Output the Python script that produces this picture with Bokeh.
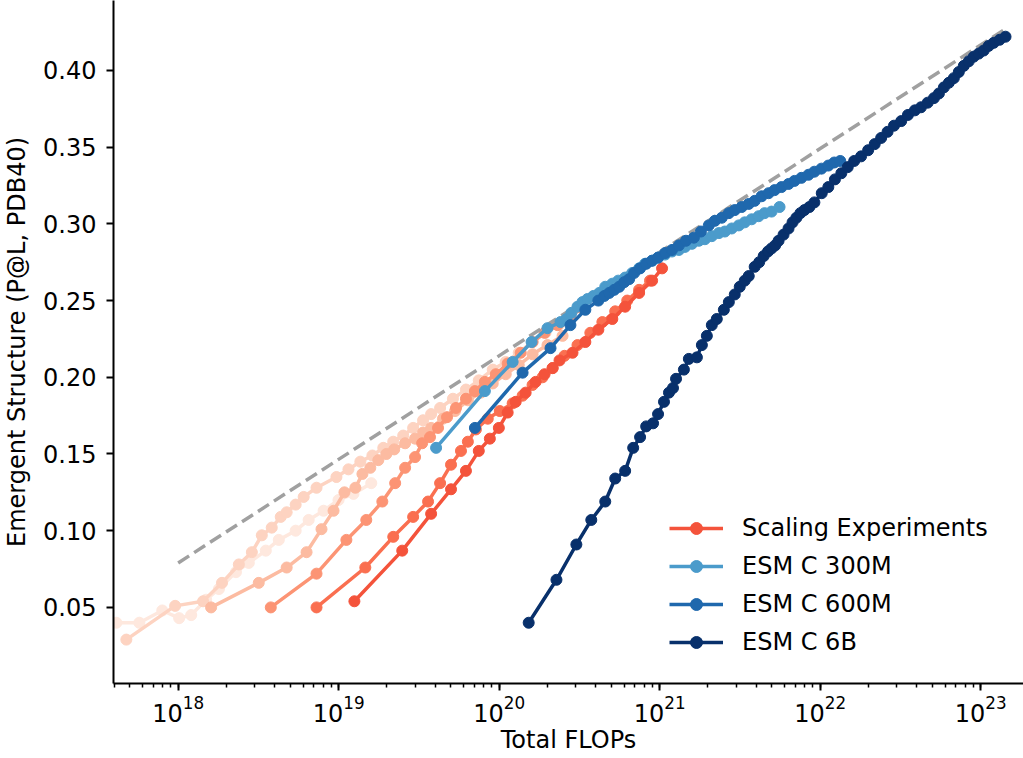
import numpy as np
from bokeh.plotting import figure
from bokeh.models import Range1d, Legend, LegendItem, FixedTicker, PrintfTickFormatter
from bokeh.embed import file_html
from bokeh.resources import INLINE

# x values are log10(total FLOPs), y values are P@L on PDB40

# scaling experiments, lightest (smallest) to darkest
scale_logx = [
    [17.615, 17.758, 17.901, 18.006, 18.081, 18.174, 18.254, 18.360, 18.440, 18.546,
     18.627, 18.732, 18.813, 18.906, 18.999, 19.092, 19.203],
    [17.677, 17.981, 18.155, 18.273, 18.378, 18.459, 18.521, 18.583, 18.639, 18.676,
     18.732, 18.782, 18.862, 18.986, 19.061, 19.135, 19.210, 19.278, 19.340, 19.402,
     19.464, 19.526, 19.576, 19.632, 19.712, 19.793, 19.873, 19.960, 20.041, 20.122,
     20.208, 20.289, 20.370, 20.444],
    [18.205, 18.502, 18.676, 18.800, 18.893, 18.968, 19.036, 19.104, 19.148, 19.197,
     19.247, 19.297, 19.346, 19.414, 19.476, 19.526, 19.576, 19.650, 19.725, 19.805,
     19.886, 19.960, 20.041, 20.122, 20.208, 20.301, 20.395],
    [18.577, 18.862, 19.048, 19.172, 19.272, 19.352, 19.414, 19.476, 19.520, 19.569,
     19.619, 19.675, 19.731, 19.793, 19.849, 19.911, 19.979, 20.053, 20.134, 20.208,
     20.283, 20.364, 20.444, 20.519],
    [18.862, 19.166, 19.340, 19.464, 19.557, 19.632, 19.700, 19.762, 19.805, 19.855,
     19.929, 20.004, 20.084, 20.146, 20.208, 20.270, 20.333, 20.407, 20.488, 20.568,
     20.643, 20.723, 20.798, 20.872, 20.940],
    [19.098, 19.396, 19.576, 19.700, 19.793, 19.873, 19.942, 19.998, 20.053, 20.103,
     20.165, 20.227, 20.283, 20.333, 20.376, 20.457, 20.537, 20.618, 20.705, 20.785,
     20.872, 20.953, 21.015],
]
scale_pal = [
    [0.040, 0.040, 0.048, 0.043, 0.045, 0.055, 0.062, 0.073, 0.079, 0.087,
     0.094, 0.100, 0.107, 0.113, 0.120, 0.124, 0.131],
    [0.029, 0.051, 0.054, 0.066, 0.078, 0.086, 0.097, 0.102, 0.109, 0.112,
     0.117, 0.122, 0.128, 0.135, 0.140, 0.145, 0.149, 0.154, 0.158, 0.162,
     0.167, 0.172, 0.176, 0.180, 0.186, 0.192, 0.198, 0.205, 0.210, 0.216,
     0.223, 0.229, 0.234, 0.239],
    [0.050, 0.066, 0.076, 0.086, 0.101, 0.113, 0.125, 0.128, 0.137, 0.141,
     0.146, 0.150, 0.153, 0.157, 0.160, 0.164, 0.167, 0.173, 0.178, 0.185,
     0.190, 0.196, 0.202, 0.208, 0.215, 0.221, 0.227],
    [0.050, 0.072, 0.094, 0.107, 0.119, 0.131, 0.141, 0.148, 0.157, 0.161,
     0.167, 0.174, 0.180, 0.186, 0.191, 0.197, 0.202, 0.209, 0.216, 0.223,
     0.229, 0.234, 0.240, 0.245],
    [0.050, 0.076, 0.096, 0.109, 0.119, 0.131, 0.143, 0.152, 0.158, 0.166,
     0.173, 0.178, 0.183, 0.188, 0.195, 0.200, 0.206, 0.214, 0.221, 0.229,
     0.236, 0.243, 0.250, 0.257, 0.263],
    [0.054, 0.087, 0.111, 0.127, 0.139, 0.152, 0.160, 0.167, 0.177, 0.184,
     0.190, 0.197, 0.202, 0.206, 0.211, 0.216, 0.223, 0.231, 0.238, 0.246,
     0.255, 0.263, 0.271],
]
scale_colors = ["#fee8de", "#fdd3c1", "#fcbba1", "#fc9474", "#fa6f50", "#f4533b"]

esm300_logx = [19.607, 19.911, 20.084, 20.202, 20.301, 20.382, 20.419, 20.450, 20.488, 20.519,
               20.550, 20.587, 20.624, 20.661, 20.705, 20.742, 20.785, 20.829, 20.872, 20.909,
               20.953, 20.990, 21.034, 21.077, 21.120, 21.158, 21.201, 21.244, 21.282, 21.325,
               21.369, 21.406, 21.449, 21.493, 21.530, 21.573, 21.617, 21.654, 21.697, 21.747]
esm300_pal = [0.154, 0.191, 0.210, 0.223, 0.232, 0.236, 0.238, 0.242, 0.246, 0.249,
              0.251, 0.253, 0.255, 0.259, 0.261, 0.263, 0.265, 0.268, 0.271, 0.274,
              0.276, 0.278, 0.280, 0.282, 0.283, 0.285, 0.287, 0.289, 0.290, 0.292,
              0.294, 0.295, 0.297, 0.299, 0.301, 0.303, 0.305, 0.307, 0.308, 0.311]

esm600_logx = [19.849, 20.146, 20.320, 20.444, 20.537, 20.618, 20.655, 20.686, 20.717, 20.748,
               20.779, 20.810, 20.841, 20.878, 20.916, 20.953, 20.990, 21.034, 21.077, 21.120,
               21.164, 21.213, 21.257, 21.306, 21.344, 21.387, 21.431, 21.468, 21.511, 21.555,
               21.592, 21.635, 21.679, 21.716, 21.759, 21.803, 21.840, 21.883, 21.927, 21.964,
               22.008, 22.051, 22.088, 22.125]
esm600_pal = [0.167, 0.203, 0.219, 0.234, 0.244, 0.250, 0.253, 0.255, 0.257, 0.259,
              0.262, 0.264, 0.268, 0.271, 0.274, 0.276, 0.278, 0.281, 0.283, 0.286,
              0.289, 0.291, 0.295, 0.299, 0.302, 0.304, 0.307, 0.309, 0.311, 0.313,
              0.315, 0.318, 0.320, 0.322, 0.324, 0.326, 0.328, 0.330, 0.332, 0.334,
              0.336, 0.338, 0.340, 0.341]

esm6b_logx = [20.184, 20.357, 20.481, 20.574, 20.661, 20.723, 20.785, 20.835, 20.878, 20.916,
              20.959, 20.990, 21.027, 21.058, 21.083, 21.102, 21.151, 21.182, 21.232, 21.263,
              21.294, 21.325, 21.356, 21.400, 21.431, 21.468, 21.499, 21.530, 21.555, 21.592,
              21.620, 21.648, 21.675, 21.697, 21.720, 21.741, 21.772, 21.803, 21.828, 21.852,
              21.877, 21.902, 21.933, 21.964, 22.010, 22.051, 22.092, 22.132, 22.172, 22.212,
              22.255, 22.299, 22.340, 22.380, 22.420, 22.460, 22.505, 22.547, 22.590, 22.628,
              22.670, 22.709, 22.740, 22.771, 22.802, 22.833, 22.864, 22.895, 22.926, 22.957,
              22.988, 23.019, 23.050, 23.081, 23.118, 23.155]
esm6b_pal = [0.040, 0.068, 0.091, 0.107, 0.119, 0.134, 0.139, 0.154, 0.161, 0.168,
             0.170, 0.176, 0.184, 0.190, 0.193, 0.199, 0.205, 0.212, 0.213, 0.221,
             0.227, 0.234, 0.238, 0.244, 0.249, 0.254, 0.259, 0.263, 0.266, 0.272,
             0.275, 0.279, 0.282, 0.284, 0.286, 0.289, 0.293, 0.297, 0.301, 0.304,
             0.307, 0.309, 0.311, 0.314, 0.320, 0.324, 0.329, 0.333, 0.337, 0.341,
             0.344, 0.348, 0.352, 0.356, 0.360, 0.364, 0.367, 0.371, 0.374, 0.376,
             0.379, 0.382, 0.385, 0.389, 0.392, 0.395, 0.399, 0.403, 0.406, 0.409,
             0.411, 0.413, 0.416, 0.418, 0.420, 0.422]

fit_logx = [18.0, 23.14]
fit_pal = [0.079, 0.426]

y_ticks = [0.05, 0.10, 0.15, 0.20, 0.25, 0.30, 0.35, 0.40]

FONT = "DejaVu Sans"

p = figure(width=1023, height=758, x_axis_type="log",
           x_range=Range1d(10 ** 17.597, 10 ** 23.267),
           y_range=Range1d(0.0004, 0.4456),
           output_backend="svg", toolbar_location=None,
           min_border_left=109, min_border_right=0, min_border_top=0, min_border_bottom=75)
p.outline_line_color = None
p.xgrid.visible = False
p.ygrid.visible = False


def tenpow(v):
    return np.power(10.0, np.array(v))


LW = 3.5
MS = 11

scale_r = []
for lx, yv, c in zip(scale_logx, scale_pal, scale_colors):
    l = p.line(tenpow(lx), yv, line_color=c, line_width=LW)
    s = p.scatter(tenpow(lx), yv, size=MS, fill_color=c, line_color=c)
    scale_r.append((l, s))

p.line(tenpow(fit_logx), fit_pal, line_color="#a0a0a0", line_width=3.5, line_dash="13 6")

series = [(esm300_logx, esm300_pal, "#4b9bcb"),
          (esm600_logx, esm600_pal, "#1f68ad"),
          (esm6b_logx, esm6b_pal, "#08306b")]
esm_r = []
for lx, yv, c in series:
    l = p.line(tenpow(lx), yv, line_color=c, line_width=LW)
    s = p.scatter(tenpow(lx), yv, size=MS, fill_color=c, line_color=c)
    esm_r.append((l, s))

items = [LegendItem(label="Scaling Experiments", renderers=list(scale_r[-1])),
         LegendItem(label="ESM C 300M", renderers=list(esm_r[0])),
         LegendItem(label="ESM C 600M", renderers=list(esm_r[1])),
         LegendItem(label="ESM C 6B", renderers=list(esm_r[2]))]
legend = Legend(items=items, location=(556, 26), border_line_color=None,
                background_fill_alpha=0, padding=0, margin=0, spacing=8,
                glyph_width=54, glyph_height=30, label_height=30, label_standoff=19,
                label_text_font=FONT, label_text_font_size="24px",
                label_text_color="black")
p.add_layout(legend, "center")

for ax in (p.xaxis[0], p.yaxis[0]):
    ax.axis_line_width = 2
    ax.axis_line_color = "black"
    ax.major_tick_in = 0
    ax.major_tick_out = 7
    ax.major_tick_line_width = 2
    ax.minor_tick_in = 0
    ax.minor_tick_out = 4
    ax.minor_tick_line_width = 1.5
    ax.major_label_text_font = FONT
    ax.major_label_text_font_size = "24px"
    ax.major_label_text_color = "black"
    ax.axis_label_text_font = FONT
    ax.axis_label_text_font_size = "24px"
    ax.axis_label_text_font_style = "normal"
    ax.axis_label_text_color = "black"

p.xaxis.axis_label = "Total FLOPs"
p.yaxis.axis_label = "Emergent Structure (P@L, PDB40)"
p.yaxis.ticker = FixedTicker(ticks=y_ticks)
p.yaxis.formatter = PrintfTickFormatter(format="%.2f")
p.yaxis.minor_tick_line_color = None
p.xaxis.major_label_standoff = 4
p.xaxis.axis_label_standoff = 1
p.yaxis.major_label_standoff = 10
p.yaxis.axis_label_standoff = 9

open("out.html", "w").write(file_html(p, INLINE))
